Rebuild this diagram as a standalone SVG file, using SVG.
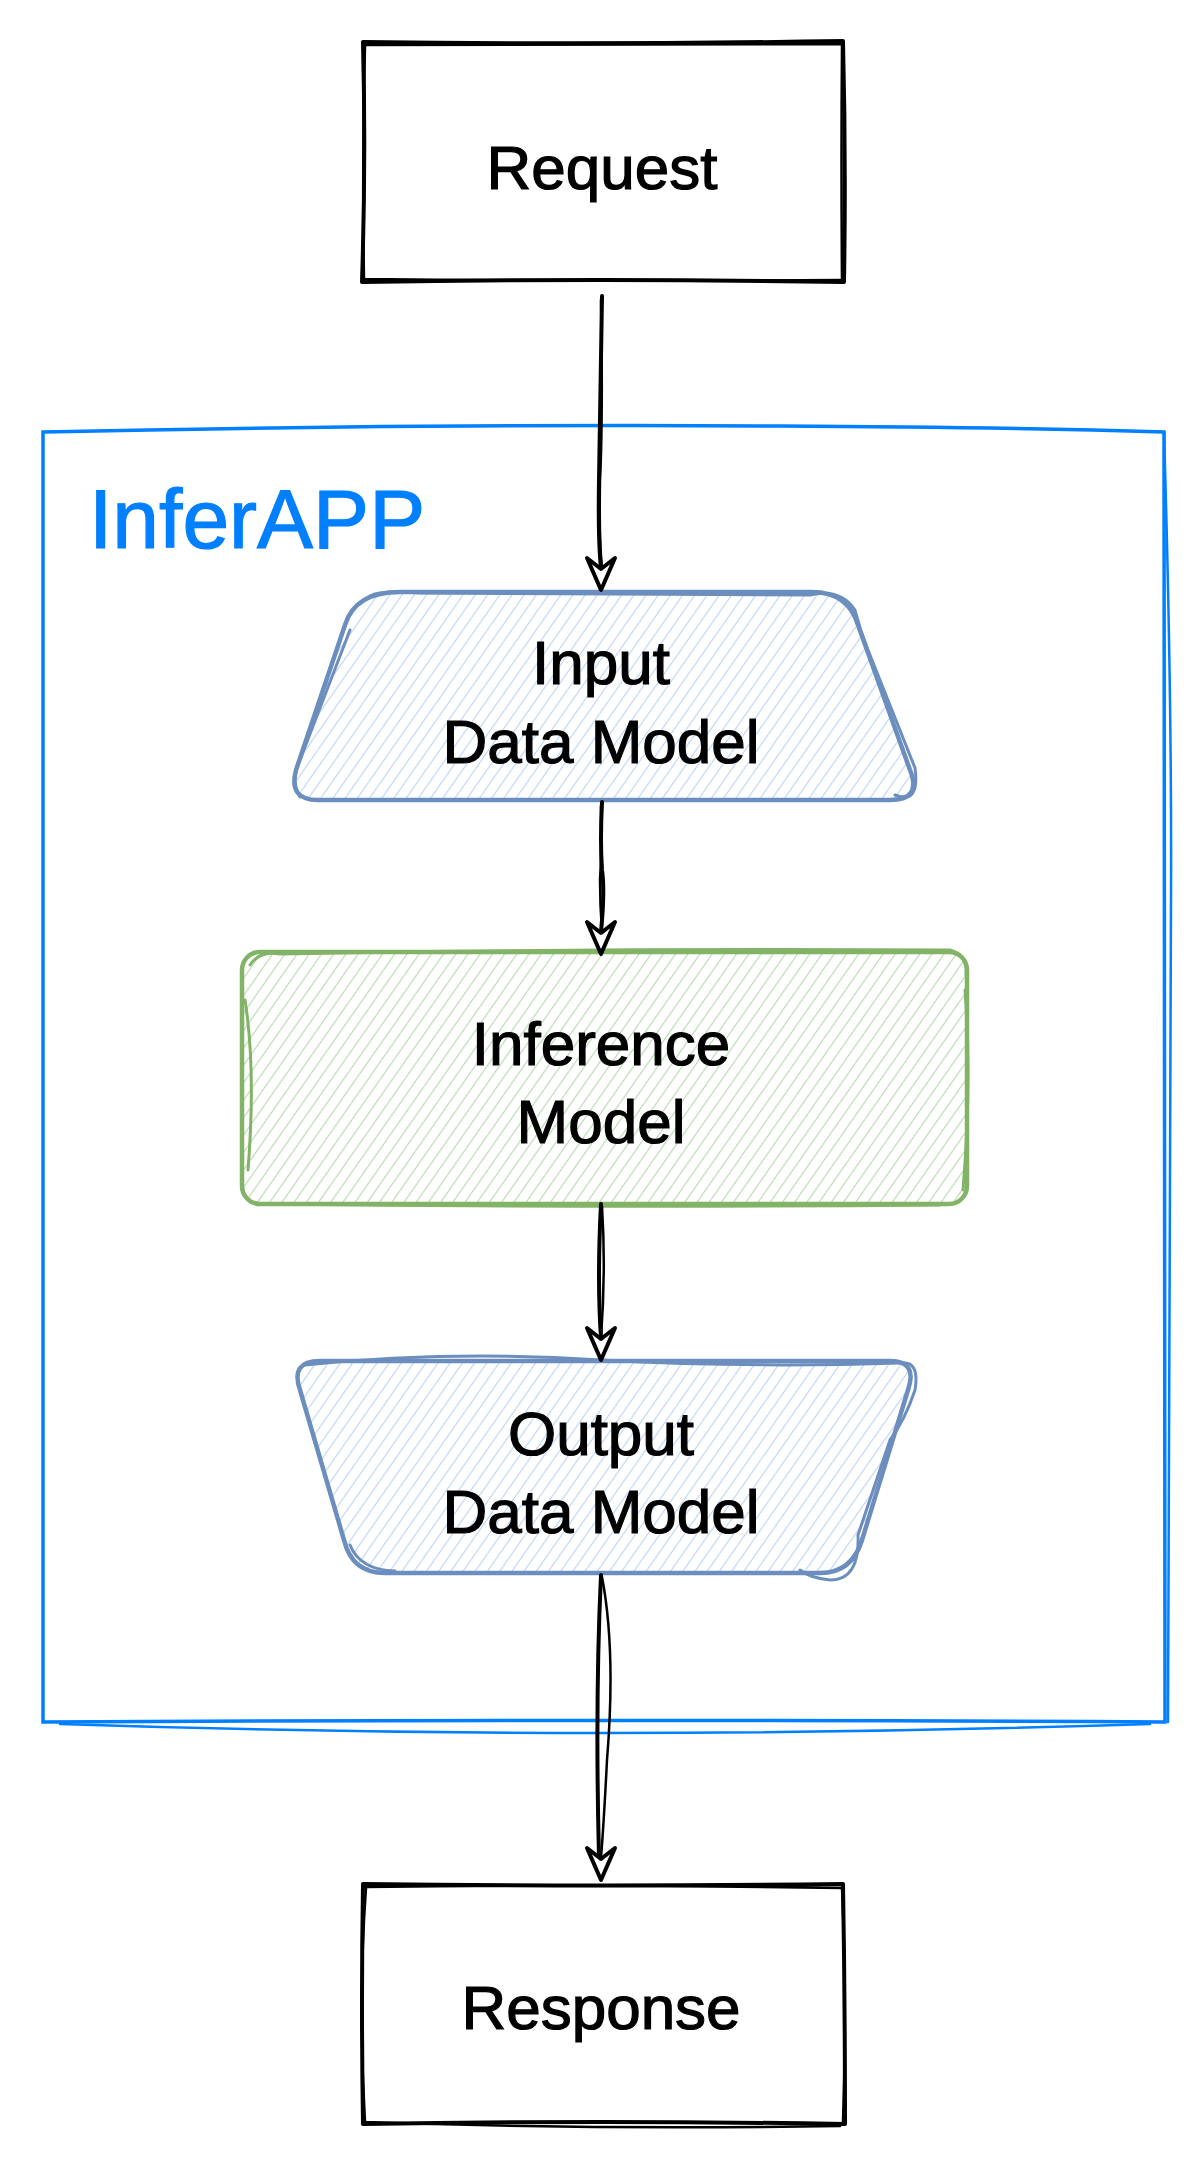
<svg xmlns="http://www.w3.org/2000/svg" width="1204" height="2164" viewBox="0 0 1204 2164">
<defs>
<pattern id="hatchBlue" patternUnits="userSpaceOnUse" width="10" height="10" patternTransform="rotate(35)">
<line x1="0" y1="0" x2="0" y2="10" stroke="#bcd4f5" stroke-width="2.2"/>
</pattern>
<pattern id="hatchGreen" patternUnits="userSpaceOnUse" width="10" height="10" patternTransform="rotate(35)">
<line x1="0" y1="0" x2="0" y2="10" stroke="#b8d9b2" stroke-width="2.2"/>
</pattern>
</defs>
<style>
.lbl{font-family:"Liberation Sans","DejaVu Sans",sans-serif;font-size:62px;fill:#000;text-anchor:middle;stroke:#000;stroke-width:1.2}
.title{font-family:"Liberation Sans","DejaVu Sans",sans-serif;font-size:84px;fill:#007fff;stroke:#007fff;stroke-width:1.2}
.blk{fill:none;stroke:#000;stroke-width:4;stroke-linecap:round;stroke-linejoin:round}
.blk2{fill:none;stroke:#000;stroke-width:2.5;stroke-linecap:round;stroke-linejoin:round}
.cont{fill:none;stroke:#007fff;stroke-width:3.5;stroke-linecap:round}
.cont2{fill:none;stroke:#007fff;stroke-width:2.5;stroke-linecap:round}
.blu{stroke:#6c8ebf;stroke-width:4.5;fill:none;stroke-linecap:round;stroke-linejoin:round}
.blu2{stroke:#6c8ebf;stroke-width:3;fill:none;stroke-linecap:round}
.grn{stroke:#82b366;stroke-width:4.5;fill:none;stroke-linecap:round;stroke-linejoin:round}
.grn2{stroke:#82b366;stroke-width:3;fill:none;stroke-linecap:round}
.head{fill:#fff;stroke:#000;stroke-width:4;stroke-linejoin:round}
</style>
<rect width="1204" height="2164" fill="#fff"/>

<g id="container">
<path class="cont" d="M43,432 Q400,424 780,426 Q1000,427 1164,432 L1165,1722 Q600,1719 43,1722 Z"/>
<path class="cont2" d="M1164,432 Q1172,700 1171,900 L1168,1722 M60,1724 Q600,1742 1150,1724"/>
<text class="title" x="89" y="548">InferAPP</text>
</g>

<g id="request">
<path class="blk" d="M363,42 Q600,45 843,41 Q846,160 844,282 Q600,278 362,282 Q366,160 363,42 Z"/>
<path class="blk2" d="M365,45 L841,44 M842,44 Q841,160 842,280 M840,280 Q600,282 365,279 M364,279 Q362,160 365,46"/>
<text class="lbl" x="602" y="189">Request</text>
</g>

<g id="input">
<path d="M400,592 L812,592 Q848,592 858,625 L910,770 Q922,800 890,800 L318,800 Q288,800 296,770 L345,625 Q355,592 400,592 Z" fill="url(#hatchBlue)"/>
<path class="blu" d="M400,592 L812,592 Q848,592 858,625 L910,770 Q922,800 890,800 L318,800 Q288,800 296,770 L345,625 Q355,592 400,592 Z"/>
<path class="blu2" d="M370,596 Q380,590 420,593 L810,595 Q840,588 855,610 Q860,630 868,650 L915,768 Q920,805 895,795 M300,797 Q290,780 300,760 L350,630"/>
<text class="lbl" x="601" y="684">Input</text>
<text class="lbl" x="601" y="763">Data Model</text>
</g>

<g id="inference">
<rect x="242" y="952" width="725" height="252" rx="18" fill="url(#hatchGreen)"/>
<rect class="grn" x="242" y="952" width="725" height="252" rx="18"/>
<path class="grn2" d="M250,965 Q260,950 280,954 Q600,948 950,950 Q968,955 966,975 M245,1000 Q256,1070 248,1170 M270,1204 Q600,1208 940,1205 M965,990 Q972,1080 963,1190"/>
<text class="lbl" x="601" y="1065">Inference</text>
<text class="lbl" x="601" y="1143">Model</text>
</g>

<g id="output">
<path d="M320,1361 L890,1361 Q918,1361 908,1390 L862,1540 Q852,1573 820,1573 L385,1573 Q352,1573 344,1540 L300,1390 Q290,1361 320,1361 Z" fill="url(#hatchBlue)"/>
<path class="blu" d="M320,1361 L890,1361 Q918,1361 908,1390 L862,1540 Q852,1573 820,1573 L385,1573 Q352,1573 344,1540 L300,1390 Q290,1361 320,1361 Z"/>
<path class="blu2" d="M305,1365 Q450,1350 601,1360 Q750,1368 900,1363 Q920,1360 915,1390 Q905,1420 890,1440 L858,1535 Q860,1580 830,1580 Q810,1578 800,1570 M350,1545 Q360,1570 395,1571"/>
<text class="lbl" x="601" y="1455">Output</text>
<text class="lbl" x="601" y="1533">Data Model</text>
</g>

<g id="response">
<path class="blk" d="M363,1884 Q600,1887 843,1884 Q845,2000 845,2124 Q600,2120 363,2124 Q361,2000 363,1884 Z"/>
<path class="blk2" d="M365,1887 Q600,1884 841,1888 M842,1888 Q847,2000 843,2122 M840,2126 Q600,2130 366,2122 M365,2122 Q358,2000 366,1888"/>
<text class="lbl" x="601" y="2029">Response</text>
</g>

<g id="connectors">
<path class="blk" d="M602,296 Q600,420 599,480 Q598,540 601,568"/>
<path class="blk2" d="M601,300 Q603,420 600,480 Q599,540 602,568"/>
<path class="head" d="M601,590 L587,558 L601,569 L615,558 Z"/>

<path class="blk" d="M602,802 Q600,840 602,870 Q605,890 601,932"/>
<path class="blk2" d="M601,806 Q602,850 600,880 Q600,905 602,932"/>
<path class="head" d="M601,954 L587,922 L601,933 L615,922 Z"/>

<path class="blk" d="M601,1204 Q597,1280 601,1338"/>
<path class="blk2" d="M602,1206 Q606,1270 601,1338"/>
<path class="head" d="M601,1360 L587,1328 L601,1339 L615,1328 Z"/>

<path class="blk" d="M601,1575 Q595,1700 599,1858"/>
<path class="blk2" d="M602,1577 Q616,1650 607,1760 Q604,1820 601,1858"/>
<path class="head" d="M601,1880 L587,1848 L601,1859 L615,1848 Z"/>
</g>
</svg>
